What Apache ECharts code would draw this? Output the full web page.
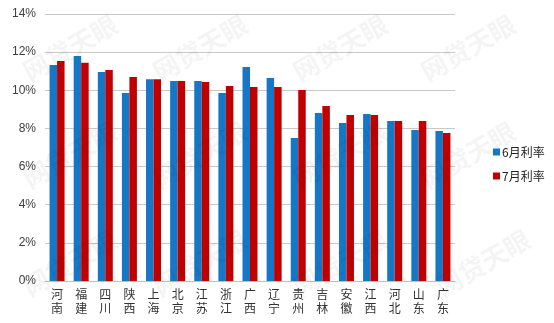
<!DOCTYPE html>
<html>
<head>
<meta charset="utf-8">
<script src="https://cdn.jsdelivr.net/npm/echarts@6/dist/echarts.min.js"></script>
<style>html,body{margin:0;padding:0;background:#fff;}#c{width:554px;height:323px;}</style>
</head>
<body>
<div id="c"></div>
<script>
var categories = ['河南','福建','四川','陕西','上海','北京','江苏','浙江','广西','辽宁','贵州','吉林','安徽','江西','河北','山东','广东'];
var june = [11.33, 11.80, 10.96, 9.86, 10.58, 10.49, 10.49, 9.86, 11.22, 10.64, 7.50, 8.81, 8.29, 8.76, 8.39, 7.92, 7.87];
var july = [11.54, 11.45, 11.06, 10.70, 10.58, 10.49, 10.43, 10.22, 10.17, 10.17, 10.02, 9.18, 8.71, 8.71, 8.39, 8.39, 7.76];
var seriesNames = ['6月利率','7月利率'];
var watermark = '网贷天眼';

var chart = echarts.init(document.getElementById('c'), null, {renderer:'canvas'});
var wmPos = [[70,48],[200,48],[340,48],[468,48],[70,155],[200,155],[340,155],[468,155],[70,263],[200,263],[340,263],[483,263]];
var graphics = wmPos.map(function(p){
  return {type:'text', x:p[0], y:p[1], rotation:Math.PI/6, z:100,
    style:{text:watermark, fill:'rgba(0,0,0,0.045)', font:'bold 26px "Noto Sans CJK SC"', textAlign:'center', textVerticalAlign:'middle'}};
});
chart.setOption({
  animation:false,
  graphic: graphics,
  grid:{left:45, right:99, top:14, bottom:42},
  legend:{
    orient:'vertical', left:488, top:141, itemWidth:7, itemHeight:7, itemGap:12,
    icon:'rect',
    textStyle:{fontSize:12, color:'#222', fontFamily:'"Noto Sans CJK SC"', padding:[0,0,0,-3]},
    data:seriesNames
  },
  xAxis:{
    type:'category', data:categories,
    axisLine:{lineStyle:{color:'#BFBFBF'}},
    axisTick:{show:false},
    axisLabel:{
      interval:0, fontSize:12, color:'#333', lineHeight:14, margin:6,
      fontFamily:'"Noto Sans CJK SC"',
      formatter:function(v){return v.split('').join('\n');}
    }
  },
  yAxis:{
    type:'value', min:0, max:14, interval:2,
    axisLine:{show:false}, axisTick:{show:false},
    splitLine:{lineStyle:{color:'#C8C8C8'}},
    axisLabel:{formatter:'{value}%', fontSize:12, color:'#404040', margin:9, fontFamily:'"Liberation Sans"'}
  },
  series:[
    {name:seriesNames[0], type:'bar', data:june, barWidth:7.5, barGap:'0%', itemStyle:{color:'#1677C7'}},
    {name:seriesNames[1], type:'bar', data:july, barWidth:7.5, barGap:'0%', itemStyle:{color:'#C00000'}}
  ]
});
</script>
</body>
</html>
